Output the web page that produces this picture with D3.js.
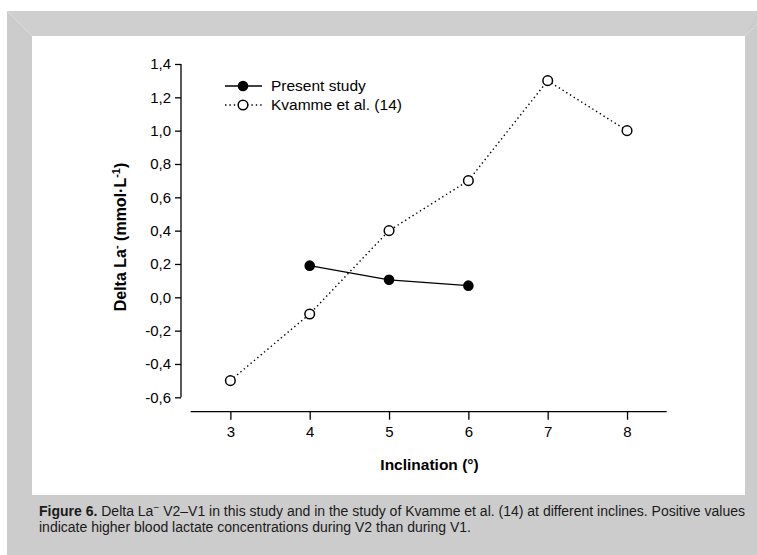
<!DOCTYPE html>
<html><head><meta charset="utf-8">
<script src="https://cdn.jsdelivr.net/npm/d3@7"></script>
<style>body{margin:0;background:#fff}svg{display:block}text{font-family:"Liberation Sans",Arial,sans-serif}</style>
</head><body><svg id="c" width="757" height="555"></svg>
<script>
const inclination = [3, 4, 5, 6, 7, 8];
const presentX = [4, 5, 6];
const presentY = [0.19, 0.105, 0.07];
const kvammeX = [3, 4, 5, 6, 7, 8];
const kvammeY = [-0.5, -0.1, 0.4, 0.7, 1.3, 1.0];
const yTicks = [-0.6, -0.4, -0.2, 0.0, 0.2, 0.4, 0.6, 0.8, 1.0, 1.2, 1.4];
const seriesNames = ["Present study", "Kvamme et al. (14)"];

const svg = d3.select("#c");
// frame
svg.append("rect").attr("x",7).attr("y",11).attr("width",750).attr("height",544).attr("fill","#cccccc");
svg.append("path").attr("d","M7,11 L757,11 L745,36 L32,36 Z").attr("fill","#cfcfcf");
svg.append("line").attr("x1",7).attr("y1",11).attr("x2",32).attr("y2",36).attr("stroke","#dadada").attr("stroke-width",1);
svg.append("line").attr("x1",757).attr("y1",24).attr("x2",745).attr("y2",36).attr("stroke","#dadada").attr("stroke-width",1);
svg.append("rect").attr("x",32).attr("y",36).attr("width",713).attr("height",459).attr("fill","#fff");

const x = d3.scaleLinear().domain([2.5, 8.5]).range([190.7, 666.7]);
const y = d3.scaleLinear().domain([-0.6, 1.4]).range([397.3, 64]);

const fmt = d => d3.format(".1f")(d).replace(".", ",").replace("−","-");

const yAxis = svg.append("g").attr("transform","translate(181,0)")
  .call(d3.axisLeft(y).tickValues(yTicks).tickSize(6).tickPadding(4).tickFormat(fmt));
const xAxis = svg.append("g").attr("transform","translate(0,411.7)")
  .call(d3.axisBottom(x).tickValues(inclination).tickSize(8).tickPadding(7).tickFormat(d3.format("d")));
[yAxis, xAxis].forEach(a => {
  a.select(".domain").attr("stroke","#000").attr("stroke-width",1.3);
  a.selectAll(".tick line").attr("stroke","#000").attr("stroke-width",1.3);
  a.selectAll(".tick text").attr("font-size",15).attr("fill","#000").attr("font-family","Liberation Sans, Arial, sans-serif");
});
xAxis.select(".domain").attr("d", `M${x.range()[0]},0H${x.range()[1]}`);
yAxis.select(".domain").attr("d", `M0,${y.range()[0]}V${y.range()[1]}`);

const line = d3.line().x(d => x(d[0])).y(d => y(d[1]));
const kv = kvammeX.map((v,i)=>[v,kvammeY[i]]);
const pr = presentX.map((v,i)=>[v,presentY[i]]);

svg.append("path").datum(kv).attr("d", line).attr("fill","none").attr("stroke","#000")
  .attr("stroke-width",1.4).attr("stroke-dasharray","1.4,3");
svg.append("path").datum(pr).attr("d", line).attr("fill","none").attr("stroke","#000").attr("stroke-width",1.3);

svg.selectAll("circle.k").data(kv).join("circle").attr("class","k")
  .attr("cx",d=>x(d[0])).attr("cy",d=>y(d[1])).attr("r",4.8)
  .attr("fill","#fff").attr("stroke","#000").attr("stroke-width",1.5);
svg.selectAll("circle.p").data(pr).join("circle").attr("class","p")
  .attr("cx",d=>x(d[0])).attr("cy",d=>y(d[1])).attr("r",5.3).attr("fill","#000");

// legend
const lg = svg.append("g");
[[86, false],[105, true]].forEach(([ly, dotted], i) => {
  lg.append("line").attr("x1",225).attr("x2",262).attr("y1",ly).attr("y2",ly).attr("stroke","#000")
    .attr("stroke-width",dotted?1.4:1.3).attr("stroke-dasharray",dotted?"1.4,3":null);
  lg.append("circle").attr("cx",243).attr("cy",ly).attr("r",dotted?4.8:5.3)
    .attr("fill",dotted?"#fff":"#000").attr("stroke","#000").attr("stroke-width",dotted?1.5:0);
  lg.append("text").attr("x",271).attr("y",ly).attr("dy","0.35em").attr("font-size",15.5).text(seriesNames[i]);
});

// axis titles
const yt = svg.append("text").attr("transform","translate(126,237) rotate(-90)").attr("text-anchor","middle")
  .attr("font-size",16).attr("font-weight","bold");
yt.append("tspan").text("Delta La");
yt.append("tspan").attr("dy",-6).attr("font-size",11).text("-");
yt.append("tspan").attr("dy",6).text(" (mmol·L");
yt.append("tspan").attr("dy",-6).attr("font-size",11).text("-1");
yt.append("tspan").attr("dy",6).text(")");

svg.append("text").attr("x",429.5).attr("y",465).attr("dy","0.35em").attr("text-anchor","middle")
  .attr("font-size",15.5).attr("font-weight","bold").text("Inclination (°)");

// caption
const c1 = svg.append("text").attr("x",39).attr("y",511).attr("dy","0.35em").attr("font-size",14).attr("fill","#1a1a1a");
c1.append("tspan").attr("font-weight","bold").text("Figure 6.");
c1.append("tspan").text(" Delta La");
c1.append("tspan").attr("dy",-5).attr("font-size",10).text("−");
c1.append("tspan").attr("dy",5).text(" V2–V1 in this study and in the study of Kvamme et al. (14) at different inclines. Positive values");
svg.append("text").attr("x",39).attr("y",527).attr("dy","0.35em").attr("font-size",14).attr("fill","#1a1a1a")
  .text("indicate higher blood lactate concentrations during V2 than during V1.");
</script></body></html>
